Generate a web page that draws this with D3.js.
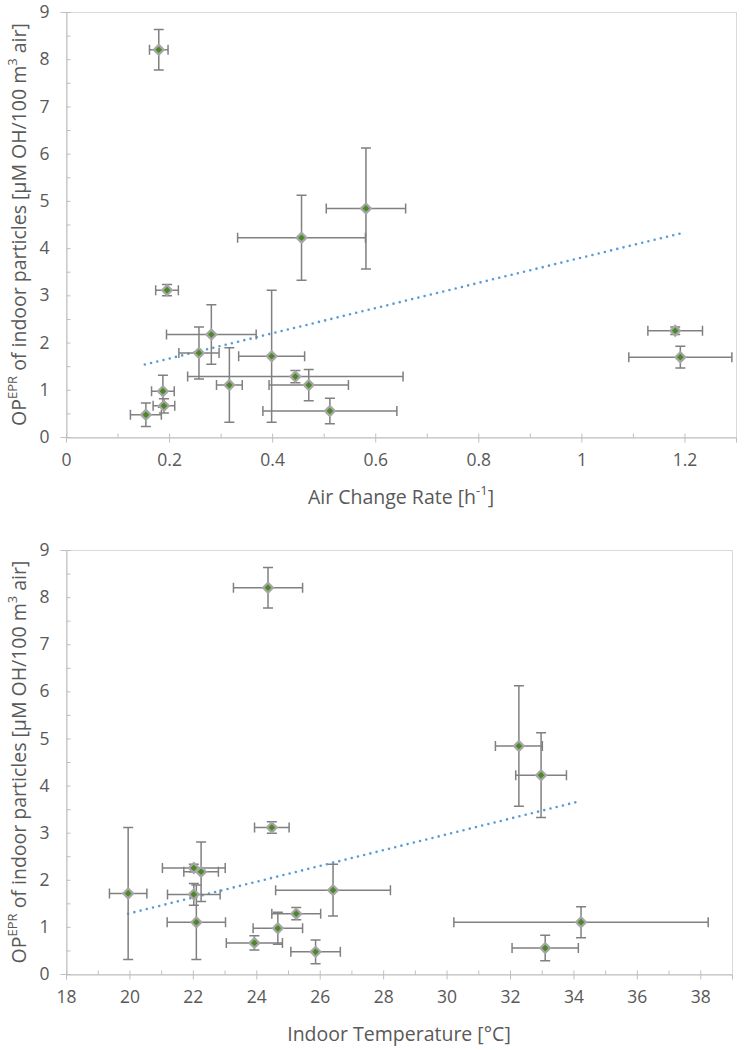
<!DOCTYPE html>
<html>
<head>
<meta charset="utf-8">
<script src="https://cdn.jsdelivr.net/npm/d3@7"></script>
<style>
  body { margin: 0; background: #fff; }
  text { font-family: "Open Sans", sans-serif; fill: #595959; }
</style>
</head>
<body>
<script>
// one entry per sampled home, same order in every array
var op      = [8.20, 4.84, 4.22, 3.11, 2.17, 1.78, 1.71, 1.10, 1.28, 1.10, 0.55, 0.97, 0.66, 0.47, 2.25, 1.69]
var opErr   = [0.43, 1.28, 0.90, 0.12, 0.63, 0.55, 1.40, 0.79, 0.13, 0.33, 0.27, 0.34, 0.15, 0.25, 0.08, 0.23]
var acr     = [0.180, 0.582, 0.457, 0.196, 0.282, 0.258, 0.399, 0.317, 0.445, 0.471, 0.512, 0.188, 0.190, 0.155, 1.182, 1.192]
var acrErr  = [0.018, 0.077, 0.124, 0.022, 0.087, 0.039, 0.064, 0.025, 0.209, 0.077, 0.130, 0.022, 0.021, 0.030, 0.053, 0.100]
var temp    = [24.37, 32.28, 32.98, 24.49, 22.26, 26.42, 19.96, 22.11, 25.26, 34.24, 33.11, 24.68, 23.94, 25.87, 22.03, 22.03]
var tempErr = [1.09, 0.74, 0.80, 0.545, 0.545, 1.81, 0.59, 0.92, 0.77, 4.01, 1.045, 0.78, 0.885, 0.78, 0.99, 0.83]

// trendline end points as drawn
var trendAcrX  = [0.153, 1.192]
var trendAcrY  = [1.535, 4.31]
var trendTempX = [19.96, 34.22]
var trendTempY = [1.28, 3.67]

var yTicks = d3.range(0, 10, 1)
var acrTicks = [0, 0.2, 0.4, 0.6, 0.8, 1, 1.2]
var tempTicks = d3.range(18, 40, 2)

var svg = d3.select('body').append('svg')
  .attr('width', 747).attr('height', 1050)

function panel(o) {
  var g = svg.append('g')
  var x = d3.scaleLinear().domain(o.xDomain).range([o.left, o.right])
  var y = d3.scaleLinear().domain([0, 9]).range([o.bottom, o.top])

  // plot area frame
  g.append('rect')
    .attr('x', o.left + 0.5).attr('y', o.top + 0.5)
    .attr('width', o.right - o.left).attr('height', o.bottom - o.top)
    .attr('fill', 'none').attr('stroke', '#d9d9d9')

  // y axis
  var ya = g.append('g').attr('transform', 'translate(' + (o.left + 0.5) + ',0)')
    .call(d3.axisLeft(y).tickValues(yTicks).tickSize(6).tickPadding(11).tickFormat(d3.format('d')))
  ya.select('.domain').attr('stroke', '#bfbfbf')
  ya.selectAll('.tick line').attr('stroke', '#bfbfbf').attr('x2', 4)
  ya.selectAll('.tick text').style('font-size', '17.5px').attr('fill', '#595959')
  g.append('g').attr('transform', 'translate(' + (o.left + 0.5) + ',0)')
    .call(d3.axisRight(y).tickValues(d3.range(0.5, 9, 1)).tickSize(4).tickFormat(''))
    .call(function (s) { s.select('.domain').remove(); s.selectAll('line').attr('stroke', '#bfbfbf') })

  // x axis
  var xa = g.append('g').attr('transform', 'translate(0,' + (o.bottom + 0.5) + ')')
    .call(d3.axisBottom(x).tickValues(o.xTicks).tickSize(5).tickPadding(11).tickFormat(function (d) { return String(d) }))
  xa.select('.domain').attr('stroke', '#bfbfbf')
  xa.selectAll('.tick line').attr('stroke', '#bfbfbf').attr('y2', 5).attr('y1', -4)
  xa.selectAll('.tick text').style('font-size', '17.5px').attr('fill', '#595959')
  g.append('g').attr('transform', 'translate(0,' + (o.bottom + 0.5) + ')')
    .call(d3.axisTop(x).tickValues(o.xMinor).tickSize(4).tickFormat(''))
    .call(function (s) { s.select('.domain').remove(); s.selectAll('line').attr('stroke', '#bfbfbf') })

  // axis titles
  var xt = g.append('text')
    .attr('x', (o.left + o.right) / 2).attr('y', o.bottom + 67)
    .attr('text-anchor', 'middle').style('font-size', '19.5px')
  o.xTitle.forEach(function (p) {
    xt.append('tspan').text(p[0])
      .attr('baseline-shift', p[1] ? 'super' : null)
      .style('font-size', p[1] ? '13px' : null)
  })
  var yt = g.append('text')
    .attr('transform', 'translate(' + 26 + ',' + (o.top + o.bottom) / 2 + ') rotate(-90)')
    .attr('text-anchor', 'middle').style('font-size', '19.5px')
  var yTitle = [['OP', 0], ['EPR', 1], [' of indoor particles [µM OH/100 m', 0], ['3', 1], [' air]', 0]]
  yTitle.forEach(function (p) {
    yt.append('tspan').text(p[0])
      .attr('baseline-shift', p[1] ? 'super' : null)
      .style('font-size', p[1] ? '13px' : null)
  })

  // trendline
  g.append('path')
    .datum(d3.zip(o.trendX, o.trendY))
    .attr('d', d3.line().x(function (d) { return x(d[0]) }).y(function (d) { return y(d[1]) }))
    .attr('fill', 'none').attr('stroke', '#5b9bd5').attr('stroke-width', 2.6)
    .attr('stroke-linecap', 'round').attr('stroke-dasharray', '0 6.4')

  // error bars
  var idx = d3.range(op.length)
  var cap = 5
  var eb = g.append('g').attr('stroke', '#808080').attr('stroke-width', 1.5).attr('fill', 'none')
  idx.forEach(function (i) {
    var cx = x(o.xs[i]), cy = y(op[i])
    var x0 = x(o.xs[i] - o.xe[i]), x1 = x(o.xs[i] + o.xe[i])
    var y0 = y(op[i] - opErr[i]), y1 = y(op[i] + opErr[i])
    eb.append('path').attr('d',
      'M' + x0 + ',' + cy + 'H' + x1 +
      'M' + x0 + ',' + (cy - cap) + 'V' + (cy + cap) +
      'M' + x1 + ',' + (cy - cap) + 'V' + (cy + cap) +
      'M' + cx + ',' + y0 + 'V' + y1 +
      'M' + (cx - cap) + ',' + y0 + 'H' + (cx + cap) +
      'M' + (cx - cap) + ',' + y1 + 'H' + (cx + cap))
  })

  // markers
  g.append('g').selectAll('path').data(idx).join('path')
    .attr('d', d3.symbol().type(d3.symbolSquare).size(48))
    .attr('transform', function (i) { return 'translate(' + x(o.xs[i]) + ',' + y(op[i]) + ') rotate(45)' })
    .attr('fill', '#4a8a26').attr('stroke', '#a6a6a6').attr('stroke-width', 2.2)
}

panel({
  left: 66, right: 736, top: 12, bottom: 437,
  xDomain: [0, 1.3], xTicks: acrTicks, xMinor: [0.1, 0.3, 0.5, 0.7, 0.9, 1.1],
  xs: acr, xe: acrErr, trendX: trendAcrX, trendY: trendAcrY,
  xTitle: [['Air Change Rate [h', 0], ['-1', 1], [']', 0]]
})

panel({
  left: 66, right: 732, top: 550, bottom: 974,
  xDomain: [18, 39], xTicks: tempTicks, xMinor: d3.range(19, 39, 2),
  xs: temp, xe: tempErr, trendX: trendTempX, trendY: trendTempY,
  xTitle: [['Indoor Temperature [°C]', 0]]
})
</script>
</body>
</html>
